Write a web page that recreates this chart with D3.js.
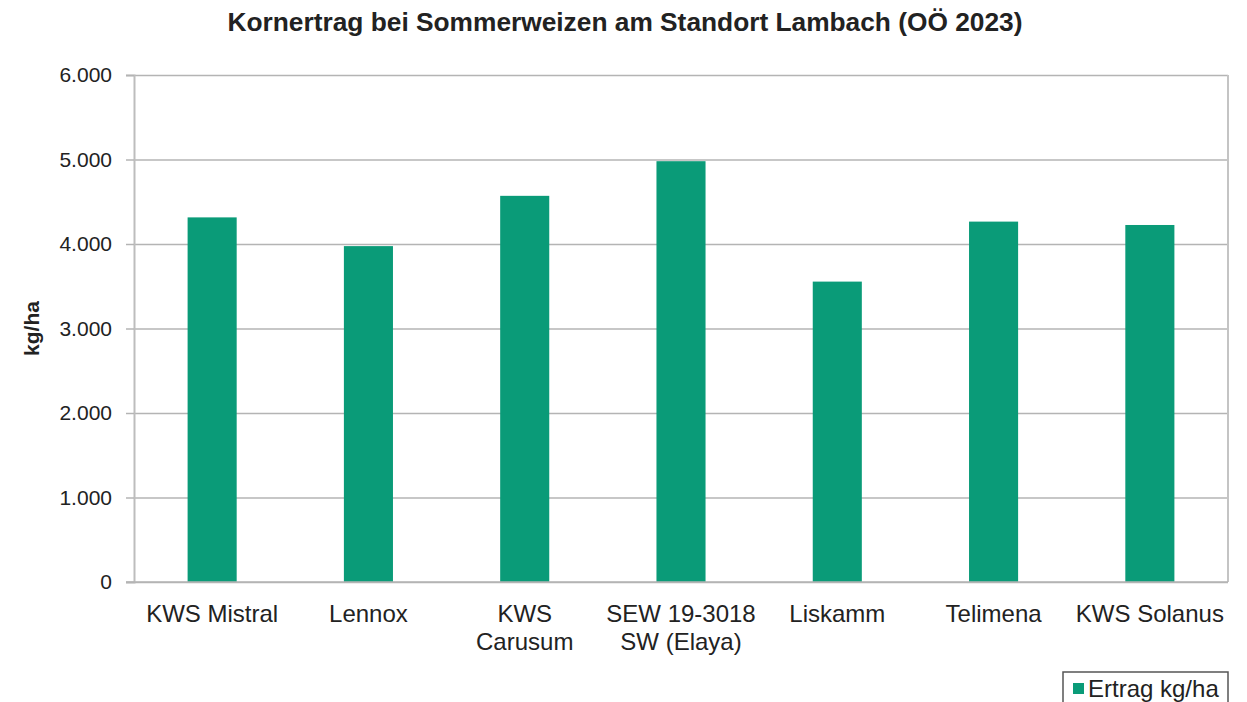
<!DOCTYPE html>
<html>
<head>
<meta charset="utf-8">
<script src="https://cdn.jsdelivr.net/npm/d3@7"></script>
<style>
  body { margin: 0; background: #fff; }
  text { font-family: "Liberation Sans", Arial, sans-serif; fill: #222; }
</style>
</head>
<body>
<svg id="grafico"></svg>
<script>
const sorten = [
  ['KWS Mistral'],
  ['Lennox'],
  ['KWS', 'Carusum'],
  ['SEW 19-3018', 'SW (Elaya)'],
  ['Liskamm'],
  ['Telimena'],
  ['KWS Solanus']
];
const ertrag = [4315, 3975, 4570, 4980, 3555, 4265, 4225];
const yTicks = [0, 1000, 2000, 3000, 4000, 5000, 6000];

const breite = 1247, hoehe = 702;
const rand = { links: 134, rechts: 19, oben: 75, unten: 120 };
const svg = d3.select('#grafico').attr('width', breite).attr('height', hoehe);

const plotB = breite - rand.links - rand.rechts;
const plotH = hoehe - rand.oben - rand.unten;
const plot = svg.append('g').attr('transform', `translate(${rand.links},${rand.oben})`);

const x = d3.scaleBand().domain(sorten.map((d, i) => i)).range([0, plotB]).paddingInner(0.686).paddingOuter(0.343);
const y = d3.scaleLinear().domain([0, 6000]).range([plotH, 0]);
const fmt = v => d3.format(',')(v).replace(/,/g, '.');

// gitterlinien
plot.append('g')
    .call(d3.axisLeft(y).tickValues(yTicks).tickSize(-plotB).tickFormat(''))
    .call(g => g.select('.domain').remove())
    .call(g => g.selectAll('line').attr('stroke', '#b4b4b4').attr('stroke-width', 1.5));

// y-achse
plot.append('g')
    .call(d3.axisLeft(y).tickValues(yTicks).tickSize(8).tickPadding(14).tickFormat(fmt))
    .call(g => g.select('.domain').attr('stroke', '#bdbdbd').attr('stroke-width', 2))
    .call(g => g.selectAll('line').attr('stroke', '#b4b4b4').attr('stroke-width', 1.5))
    .call(g => g.selectAll('text').attr('font-size', 21).style('font-family', '"Liberation Sans", Arial, sans-serif').attr('fill', '#222'));

// rechter rand
plot.append('line')
    .attr('x1', plotB).attr('x2', plotB).attr('y1', 0).attr('y2', plotH)
    .attr('stroke', '#c4c4c4').attr('stroke-width', 2);

// balken
plot.selectAll('.balken').data(ertrag).enter().append('rect')
    .attr('class', 'balken')
    .attr('x', (d, i) => x(i))
    .attr('width', x.bandwidth())
    .attr('y', d => y(d))
    .attr('height', d => plotH - y(d))
    .attr('fill', '#0a9b78');

// x-achse
plot.append('line')
    .attr('x1', -8).attr('x2', plotB).attr('y1', plotH).attr('y2', plotH)
    .attr('stroke', '#b4b4b4').attr('stroke-width', 1.5);

const labels = plot.selectAll('.xlabel').data(sorten).enter().append('text')
    .attr('class', 'xlabel')
    .attr('text-anchor', 'middle')
    .attr('font-size', 24)
    .attr('transform', (d, i) => `translate(${x(i) + x.bandwidth() / 2},${plotH + 40})`);
labels.selectAll('tspan').data(d => d).enter().append('tspan')
    .attr('x', 0)
    .attr('dy', (d, j) => j === 0 ? 0 : 28)
    .text(d => d);

// titel
svg.append('text')
    .attr('x', 625).attr('y', 31)
    .attr('text-anchor', 'middle')
    .attr('font-size', 26.3).attr('font-weight', 'bold')
    .text('Kornertrag bei Sommerweizen am Standort Lambach (OÖ 2023)');

// y-titel
svg.append('text')
    .attr('transform', `translate(39,${rand.oben + plotH / 2}) rotate(-90)`)
    .attr('text-anchor', 'middle')
    .attr('font-size', 21).attr('font-weight', 'bold')
    .text('kg/ha');

// legende
const leg = svg.append('g').attr('transform', 'translate(1063,672)');
leg.append('rect').attr('width', 165).attr('height', 40)
    .attr('fill', '#fff').attr('stroke', '#555').attr('stroke-width', 1.5);
leg.append('rect').attr('x', 10).attr('y', 11).attr('width', 11).attr('height', 11).attr('fill', '#0a9b78');
leg.append('text').attr('x', 25).attr('y', 25).attr('font-size', 24).text('Ertrag kg/ha');
</script>
</body>
</html>
